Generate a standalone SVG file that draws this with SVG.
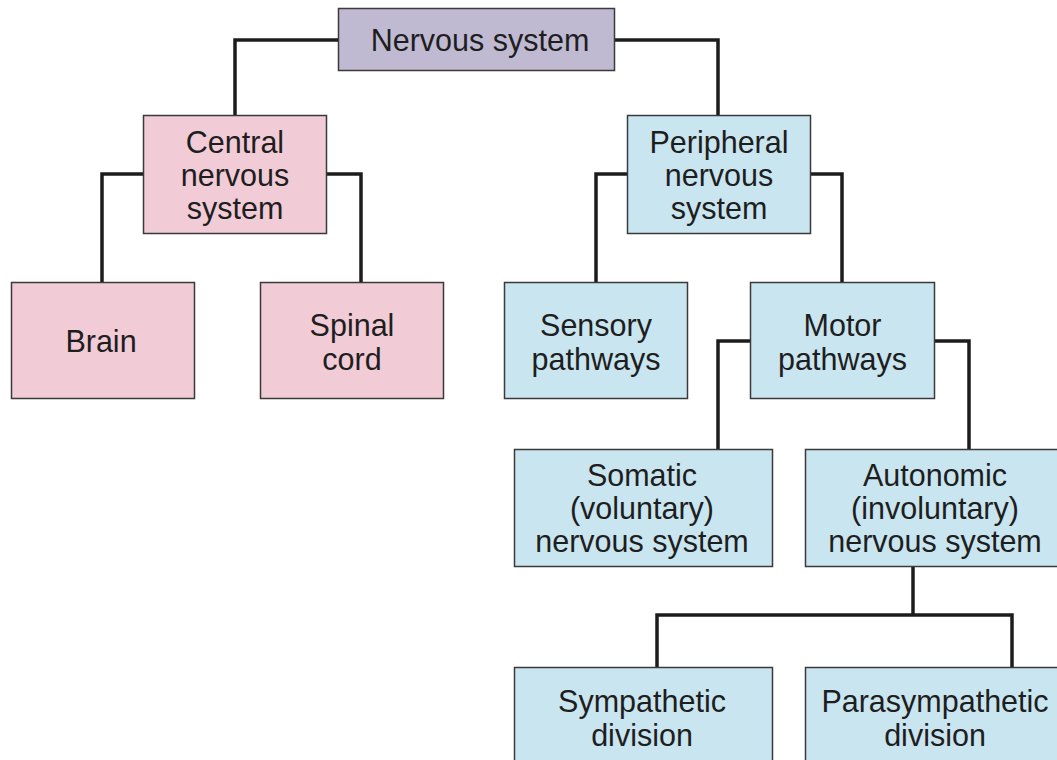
<svg xmlns="http://www.w3.org/2000/svg" width="1057" height="760" viewBox="0 0 1057 760">
<style>
.box{stroke:#3a3a3a;stroke-width:1.5}
.root{fill:#bfbad2}
.cns{fill:#f1cbd6}
.pns{fill:#c9e5f0}
.conn{fill:none;stroke:#1c1c1c;stroke-width:3.5;stroke-linejoin:miter}
text{font-family:"Liberation Sans",Arial,sans-serif;font-size:30.5px;fill:#1e1e1e;text-anchor:middle}
</style>
<rect width="1057" height="760" fill="#ffffff"/>
<g id="connectors">
<path class="conn" d="M338,40 H235 V115"/>
<path class="conn" d="M614,40 H718 V115"/>
<path class="conn" d="M143,174 H102 V282"/>
<path class="conn" d="M326,174 H361 V282"/>
<path class="conn" d="M627,174 H596 V282"/>
<path class="conn" d="M810,174 H842 V282"/>
<path class="conn" d="M750,341 H718 V449"/>
<path class="conn" d="M934,341 H969 V449"/>
<path class="conn" d="M913,566 V615"/>
<path class="conn" d="M657,667 V615 H1012 V667"/>
</g>
<g id="nervous-system">
<rect class="box root" x="338.5" y="8.5" width="276" height="62"/>
<text x="480" y="51">Nervous system</text>
</g>
<g id="cns">
<rect class="box cns" x="143.5" y="115.5" width="183" height="118"/>
<text x="235" y="153">Central</text>
<text x="235" y="186">nervous</text>
<text x="235" y="219">system</text>
</g>
<g id="pns">
<rect class="box pns" x="627.5" y="115.5" width="183" height="118"/>
<text x="719" y="153">Peripheral</text>
<text x="719" y="186">nervous</text>
<text x="719" y="219">system</text>
</g>
<g id="brain">
<rect class="box cns" x="11.5" y="282.5" width="183" height="116"/>
<text x="101" y="352">Brain</text>
</g>
<g id="spinal-cord">
<rect class="box cns" x="260.5" y="282.5" width="183" height="116"/>
<text x="352" y="336">Spinal</text>
<text x="352" y="370">cord</text>
</g>
<g id="sensory">
<rect class="box pns" x="504.5" y="282.5" width="183" height="116"/>
<text x="596" y="336">Sensory</text>
<text x="596" y="370">pathways</text>
</g>
<g id="motor">
<rect class="box pns" x="750.5" y="282.5" width="184" height="116"/>
<text x="842.5" y="336">Motor</text>
<text x="842.5" y="370">pathways</text>
</g>
<g id="somatic">
<rect class="box pns" x="514.5" y="449.5" width="258" height="117"/>
<text x="642" y="486">Somatic</text>
<text x="642" y="519">(voluntary)</text>
<text x="642" y="552">nervous system</text>
</g>
<g id="autonomic">
<rect class="box pns" x="805.5" y="449.5" width="260" height="117"/>
<text x="935" y="486">Autonomic</text>
<text x="935" y="519">(involuntary)</text>
<text x="935" y="552">nervous system</text>
</g>
<g id="sympathetic">
<rect class="box pns" x="514.5" y="667.5" width="258" height="100"/>
<text x="642" y="712">Sympathetic</text>
<text x="642" y="746">division</text>
</g>
<g id="parasympathetic">
<rect class="box pns" x="805.5" y="667.5" width="260" height="100"/>
<text x="935" y="712">Parasympathetic</text>
<text x="935" y="746">division</text>
</g>
</svg>
